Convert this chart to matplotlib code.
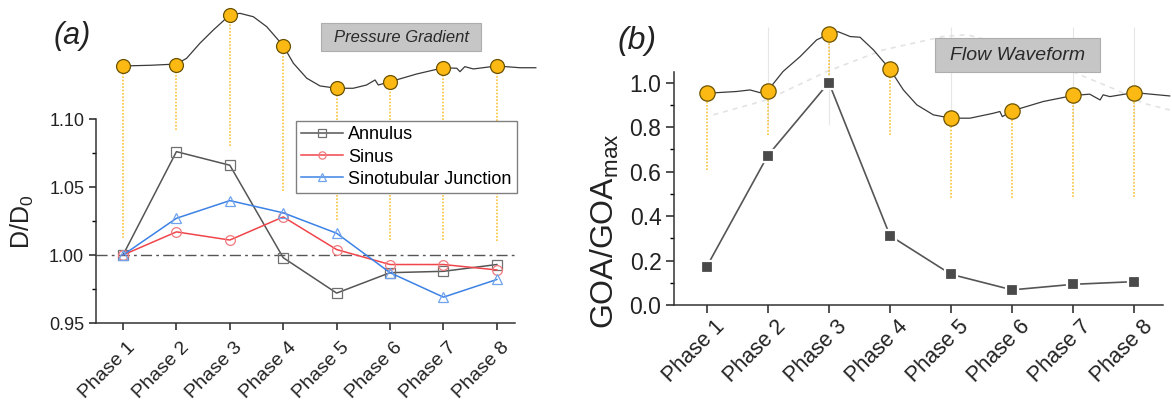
import matplotlib
matplotlib.use("Agg")
import matplotlib.pyplot as plt
import matplotlib.transforms as mtransforms
from matplotlib.patches import Rectangle
from matplotlib.ticker import MultipleLocator, FormatStrFormatter

plt.rcParams['font.family'] = ['Liberation Sans', 'DejaVu Sans']
plt.rcParams['mathtext.default'] = 'regular'

phases = [1, 2, 3, 4, 5, 6, 7, 8]
phase_labels = ['Phase 1', 'Phase 2', 'Phase 3', 'Phase 4',
                'Phase 5', 'Phase 6', 'Phase 7', 'Phase 8']

# panel (a): normalised diameter
annulus = [1.000, 1.076, 1.066, 0.998, 0.972, 0.987, 0.988, 0.993]
sinus = [1.000, 1.017, 1.011, 1.028, 1.004, 0.993, 0.993, 0.989]
stj = [1.000, 1.027, 1.040, 1.031, 1.016, 0.987, 0.969, 0.982]

# panel (b): normalised orifice area
goa = [0.172, 0.672, 1.000, 0.312, 0.138, 0.068, 0.093, 0.105]

# pressure gradient trace above (a), read in D/D0 units
pg_marks = [1.139, 1.140, 1.1765, 1.154, 1.1226, 1.1274, 1.1377, 1.139]
pg_drop = [1.0125, 1.092, 1.080, 1.047, 1.026, 1.011, 1.011, 1.010]
pg_t = [1.00, 1.51, 2.00, 2.19, 2.44, 2.69, 3.00, 3.19, 3.44, 3.69, 4.00,
        4.19, 4.44, 4.69, 5.00, 5.31, 5.56, 5.72, 5.78, 6.00, 6.50, 7.00,
        7.25, 7.31, 7.40, 7.56, 8.00, 8.43, 8.73]
pg_v = [1.1390, 1.1395, 1.1404, 1.1446, 1.1557, 1.1654, 1.1765, 1.1777,
        1.1752, 1.1679, 1.1539, 1.1410, 1.1300, 1.1243, 1.1226, 1.1226,
        1.1250, 1.1287, 1.1250, 1.1274, 1.1331, 1.1377, 1.1373, 1.1348,
        1.1385, 1.1368, 1.1390, 1.1377, 1.1377]

# flow waveform above (b), read in GOA/GOAmax units
flow_marks = [0.952, 0.964, 1.218, 1.060, 0.840, 0.873, 0.942, 0.955]
flow_drop = [0.607, 0.765, 1.035, 0.765, 0.480, 0.480, 0.487, 0.487]
flow_t = [1.00, 1.49, 1.71, 1.87, 2.00, 2.25, 2.53, 2.80, 3.00, 3.15, 3.35,
          3.51, 3.73, 4.00, 4.22, 4.44, 4.71, 5.00, 5.31, 5.69, 5.80, 5.84,
          6.00, 6.51, 7.00, 7.27, 7.44, 7.49, 7.60, 8.00, 8.58]
flow_v = [0.952, 0.960, 0.967, 0.955, 0.964, 1.050, 1.117, 1.192, 1.218,
          1.229, 1.207, 1.204, 1.147, 1.060, 0.967, 0.900, 0.855, 0.840,
          0.840, 0.862, 0.870, 0.847, 0.873, 0.915, 0.942, 0.948, 0.922,
          0.945, 0.937, 0.955, 0.940]
ghost_t = [1.11, 1.98, 2.96, 3.89, 4.87, 5.26, 6.20, 7.11, 7.71, 8.15, 8.58]
ghost_v = [0.855, 0.922, 1.049, 1.147, 1.207, 1.215, 1.150, 1.035, 0.967,
           0.907, 0.877]
grid_phases = [2, 3, 5, 7, 8]

W, H = 1172, 404
fig = plt.figure(figsize=(W / 100, H / 100), dpi=100)
ax1 = fig.add_axes([96 / W, 1 - 323 / H, 419 / W, 204 / H])
ax2 = fig.add_axes([674 / W, 1 - 305 / H, 489 / W, 233.3 / H])

orange = '#fdb913'
orange_edge = '#6b5200'
dot_col = '#f9c43c'

# ---- panel (a)
ax1.vlines(phases, pg_drop, pg_marks, colors=dot_col, linestyles=(0, (1, 1)),
           lw=1.2, clip_on=False, zorder=1)
ax1.plot(pg_t, pg_v, color='#3a3a3a', lw=0.9, clip_on=False, zorder=3)
ax1.plot(phases, pg_marks, 'o', ms=10, mfc=orange, mec=orange_edge, mew=0.9,
         clip_on=False, zorder=6)
ax1.axhline(1.0, color='#555555', lw=1, ls=(0, (8, 3, 2, 3)), zorder=2)

ax1.plot(phases, annulus, color='#555555', lw=1.1, marker='s', ms=7,
         mfc='none', mec='#707070', mew=0.9, label='Annulus', zorder=4)
ax1.plot(phases, sinus, color='#f0454b', lw=1.1, marker='o', ms=7,
         mfc='none', mec='#f07a7e', mew=0.9, label='Sinus', zorder=4)
ax1.plot(phases, stj, color='#3c82e6', lw=1.1, marker='^', ms=7,
         mfc='none', mec='#6fa3ee', mew=0.9, label='Sinotubular Junction',
         zorder=4)

leg = ax1.legend(loc='upper left', bbox_to_anchor=(0.477, 0.99), fontsize=13,
                 fancybox=False, edgecolor='#808080', framealpha=1,
                 handlelength=2.3, handletextpad=0.3, labelspacing=0.28,
                 borderpad=0.3, borderaxespad=0, markerscale=0.75)
leg.get_frame().set_linewidth(1.0)
leg.set_zorder(7)

ax1.set_xlim(0.494, 8.34)
ax1.set_ylim(0.95, 1.10)
ax1.set_yticks([0.95, 1.00, 1.05, 1.10])
ax1.yaxis.set_major_formatter(FormatStrFormatter('%.2f'))
ax1.yaxis.set_minor_locator(MultipleLocator(0.025))
ax1.set_xticks(phases)
ax1.set_xticklabels(phase_labels, rotation=45, ha='right', va='center',
                    rotation_mode='anchor')
ax1.tick_params(direction='out', length=5, width=1.1, labelsize=13,
                colors='#222222')
ax1.tick_params(axis='x', labelsize=14)
ax1.tick_params(which='minor', direction='out', length=3, width=1.0)

# ---- panel (b)
ax2.vlines(grid_phases, 0.81, 1.25, colors='#e6e6e6', lw=0.8, clip_on=False,
           zorder=0)
ax2.plot(ghost_t, ghost_v, color='#e3e3e3', lw=1.2, ls=(0, (3, 3)),
         clip_on=False, zorder=0)
ax2.vlines(phases, flow_drop, flow_marks, colors=dot_col, linestyles=(0, (1, 1)),
           lw=1.2, clip_on=False, zorder=1)
ax2.plot(flow_t, flow_v, color='#3a3a3a', lw=0.9, clip_on=False, zorder=3)
ax2.plot(phases, flow_marks, 'o', ms=11, mfc=orange, mec=orange_edge, mew=0.9,
         clip_on=False, zorder=6)
ax2.plot(phases, goa, color='#555555', lw=1.2, marker='s', ms=9,
         mfc='#4a4a4a', mec='white', mew=1.6, zorder=4)

ax2.set_xlim(0.465, 8.47)
ax2.set_ylim(0, 1.049)
ax2.set_yticks([0.0, 0.2, 0.4, 0.6, 0.8, 1.0])
ax2.yaxis.set_major_formatter(FormatStrFormatter('%.1f'))
ax2.yaxis.set_minor_locator(MultipleLocator(0.1))
ax2.set_xticks(phases)
ax2.set_xticklabels(phase_labels, rotation=45, ha='right', va='center',
                    rotation_mode='anchor')
ax2.tick_params(direction='out', length=5.5, width=1.1, colors='#222222')
ax2.tick_params(axis='y', labelsize=16.5)
ax2.tick_params(axis='x', labelsize=15.5)
ax2.tick_params(which='minor', direction='out', length=3, width=1.0)

for ax in (ax1, ax2):
    ax.spines[['top', 'right']].set_visible(False)
    for s in ('left', 'bottom'):
        ax.spines[s].set_linewidth(1.1)
        ax.spines[s].set_color('#333333')

off1 = mtransforms.ScaledTranslation(0.10, -0.10, fig.dpi_scale_trans)
for lab in ax1.get_xticklabels():
    lab.set_transform(lab.get_transform() + off1)
off2 = mtransforms.ScaledTranslation(0.15, -0.06, fig.dpi_scale_trans)
for lab in ax2.get_xticklabels():
    lab.set_transform(lab.get_transform() + off2)

# labels and captions
fig.text(22 / W, 1 - 222 / H, '$D/D_0$', rotation=90, fontsize=18,
         ha='center', va='center', color='#222222')
fig.text(605 / W, 1 - 231 / H, '$GOA/GOA_{max}$', rotation=90, fontsize=23,
         ha='center', va='center', color='#222222')
fig.text(72 / W, 1 - 36 / H, '(a)', fontsize=22, style='italic',
         ha='center', va='center', color='#222222')
fig.text(637 / W, 1 - 41 / H, '(b)', fontsize=23, style='italic',
         ha='center', va='center', color='#222222')

fig.add_artist(Rectangle((321 / W, 1 - 51 / H), 160 / W, 28 / H,
                         transform=fig.transFigure, fc='#c6c6c6',
                         ec='#adadad', lw=0.8))
fig.text(401 / W, 1 - 37 / H, 'Pressure Gradient', fontsize=12,
         style='italic', ha='center', va='center', color='#2a2a2a')
fig.add_artist(Rectangle((935 / W, 1 - 71.7 / H), 165 / W, 33.4 / H,
                         transform=fig.transFigure, fc='#c6c6c6',
                         ec='#adadad', lw=0.8))
fig.text(1017.5 / W, 1 - 55 / H, 'Flow Waveform', fontsize=14,
         style='italic', ha='center', va='center', color='#2a2a2a')

fig.savefig('out.png', dpi=100)
